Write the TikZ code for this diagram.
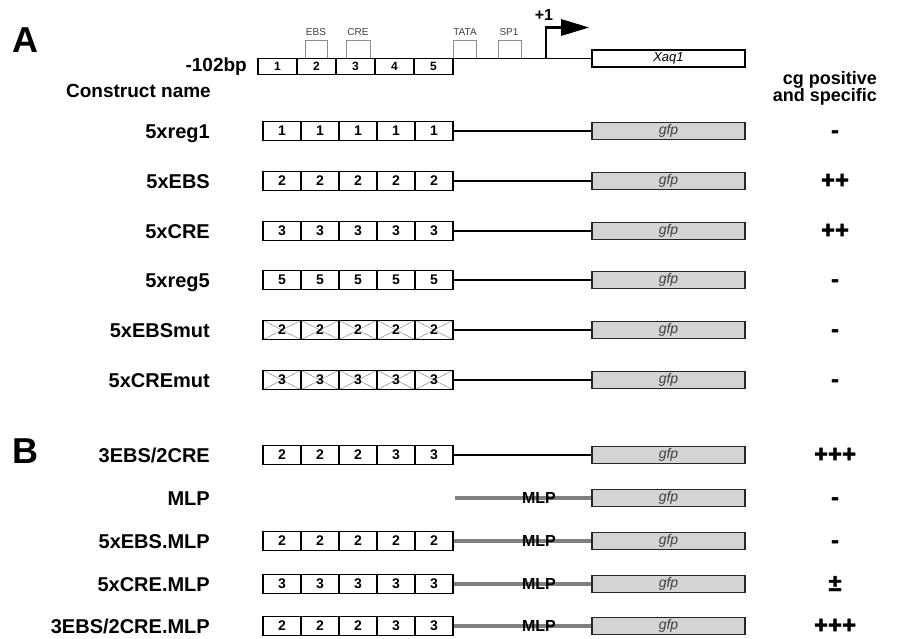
\documentclass[tikz,border=0pt]{standalone}
\usepackage{fontspec}
\setmainfont{Liberation Sans}
\newfontfamily\signfont[FakeBold=1.6]{Liberation Sans Bold}
\newcommand{\rowcells}[4]{\foreach \d [count=\i] in {#4} {\node[#3] (#1c\i) at ({263+38*\i-19},#2) {\d};}}
\newcommand{\construct}[6]{%
  \node[rowlabel] (#1l) at (210,#2+7) {#3};
  \rowcells{#1}{#2}{#4}{#5}
  \node[gfpbox] (#1g) at (668.5,#2) {gfp};
  \node[sign] (#1s) at (835,#2+7) {#6};}
\begin{document}
\begin{tikzpicture}[x=1pt,y=-1pt,
  cell/.style={draw, line width=1.4pt, minimum width=38pt, minimum height=19.5pt, inner sep=0pt, font=\fontsize{14}{14}\selectfont\bfseries},
  mutcell/.style={cell, path picture={\draw[black!45, line width=0.5pt] (path picture bounding box.north west) -- (path picture bounding box.south east) (path picture bounding box.south west) -- (path picture bounding box.north east);}},
  hcell/.style={draw, line width=1.8pt, minimum width=39pt, minimum height=16pt, inner sep=0pt, outer sep=0pt, font=\fontsize{12}{12}\selectfont\bfseries},
  gfpbox/.style={draw=black!85, line width=1.5pt, fill=black!17, minimum width=153pt, minimum height=17pt, inner sep=0pt, text=black!75, font=\fontsize{14}{14}\selectfont\itshape},
  rowlabel/.style={anchor=base east, font=\fontsize{20}{20}\selectfont\bfseries, inner sep=0pt},
  sign/.style={anchor=base, font=\fontsize{24}{24}\signfont, inner sep=0pt},
  link/.style={line width=1.4pt},
  mlplink/.style={line width=3.5pt, black!50},
  mlptext/.style={font=\fontsize{16}{16}\selectfont\bfseries, inner sep=0pt},
  site/.style={draw=black!45, line width=0.7pt},
  sitelabel/.style={font=\fontsize{10}{10}\selectfont, text=black!75, inner sep=0pt, anchor=base},
  panel/.style={anchor=base, font=\fontsize{36}{36}\selectfont\bfseries, inner sep=0pt},
  head/.style={anchor=base east, font=\fontsize{19}{19}\selectfont\bfseries, inner sep=0pt},
]
\useasboundingbox[fill=white] (0,0) rectangle (900,638);

% panel letters and headings
\node[panel] (pA) at (25,52) {A};
\node[panel] (pB) at (25,463) {B};
\node[head] (bp) at (247,71) {-102bp};
\node[head] (cn) at (211,97) {Construct name};
\node[head, font=\fontsize{18}{18}\selectfont\bfseries] (cg1) at (877,84) {cg positive};
\node[head, font=\fontsize{18}{18}\selectfont\bfseries] (cg2) at (877,101) {and specific};

% header promoter
\foreach \d in {1,...,5} {\node[hcell] (h\d) at ({258+39*\d-19.5},66.5) {\d};}
\node[draw, line width=1.5pt, outer sep=0pt, minimum width=153pt, minimum height=17pt, inner sep=0pt, font=\fontsize{13}{13}\selectfont\itshape] (xaq) at (668.5,58.5) {Xaq1};
\draw[line width=1.6pt] (h5.north east) -- (xaq.west);
\draw[site] (305,58) |- (327,40) -- (327,58);
\draw[site] (346,58) |- (370,40) -- (370,58);
\draw[site] (453,58) |- (476,40) -- (476,58);
\draw[site] (498,58) |- (521,40) -- (521,58);
\node[sitelabel] (tEBS) at (316,35) {EBS};
\node[sitelabel] (tCRE) at (358,35) {CRE};
\node[sitelabel] (tTATA) at (465,35) {TATA};
\node[sitelabel] (tSP) at (509,35) {SP1};
\coordinate (tss) at (546,58.5);
\coordinate (bend) at (546,27.5);
\coordinate (arr) at (563,27.5);
\draw[line width=2.6pt] (tss) -- (bend) -- (arr);
\fill (561,19) -- (589,27.5) -- (561,36) -- cycle;
\node[anchor=base, font=\fontsize{16}{16}\selectfont\bfseries, inner sep=0pt] (plus1) at (544,20) {+1};

% panel A constructs
\construct{r1}{131}{5xreg1}{cell}{1,1,1,1,1}{-}
\construct{r2}{181}{5xEBS}{cell}{2,2,2,2,2}{++}
\construct{r3}{231}{5xCRE}{cell}{3,3,3,3,3}{++}
\construct{r4}{280}{5xreg5}{cell}{5,5,5,5,5}{-}
\construct{r5}{330}{5xEBSmut}{mutcell}{2,2,2,2,2}{-}
\construct{r6}{380}{5xCREmut}{mutcell}{3,3,3,3,3}{-}
\foreach \r in {r1,r2,r3,r4,r5,r6} {\draw[link] (\r c5.east) -- (\r g.west);}

% panel B constructs
\construct{r7}{455}{3EBS/2CRE}{cell}{2,2,2,3,3}{+++}
\draw[link] (r7c5.east) -- (r7g.west);
\node[rowlabel] (r8l) at (210,505) {MLP};
\node[gfpbox] (r8g) at (668.5,498) {gfp};
\node[sign] (r8s) at (835,505) {-};
\coordinate (m0) at (455,498);
\draw[mlplink] (m0) -- (r8g.west);
\node[mlptext] (r8m) at (539,498) {MLP};
\construct{r9}{541}{5xEBS.MLP}{cell}{2,2,2,2,2}{-}
\construct{r10}{584}{5xCRE.MLP}{cell}{3,3,3,3,3}{±}
\construct{r11}{626}{3EBS/2CRE.MLP}{cell}{2,2,2,3,3}{+++}
\foreach \r/\y in {r9/541,r10/584,r11/626} {
  \draw[mlplink] (\r c5.east) -- (\r g.west);
  \node[mlptext] (\r m) at (539,\y) {MLP};
}
\end{tikzpicture}
\end{document}
